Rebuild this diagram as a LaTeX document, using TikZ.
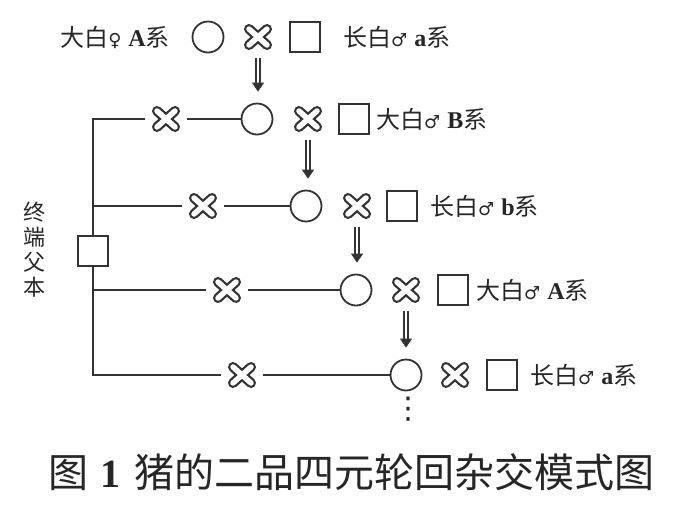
\documentclass[tikz,border=0pt]{standalone}
\usepackage{fontspec}
\setmainfont{Liberation Serif}
\newfontfamily\cjk{Noto Sans CJK SC}
\newfontfamily\symb{DejaVu Sans}
\usepackage{tikz}
\usetikzlibrary{arrows.meta}

% strain label: breed, sex sign, line letter
\newcommand{\strain}[3]{{\cjk #1}{\symb\fontsize{18}{18}\selectfont #2}\hspace{7pt}{\bfseries #3}{\cjk 系}}

\begin{document}
\begin{tikzpicture}[x=1pt, y=-1pt,
	color=black!80,
	lab/.style={inner sep=0pt, text=black!85, font=\fontsize{24}{24}\selectfont},
	female/.style={circle, draw, line width=1.8pt, minimum size=31pt, inner sep=0pt},
	male/.style={rectangle, draw, line width=2pt, minimum size=30pt, inner sep=0pt},
	mating/.style={minimum size=42pt, inner sep=0pt,
		path picture={
			\draw[line width=10pt, line cap=round]
				([shift={(-9pt,-8pt)}]path picture bounding box.center) -- ([shift={(9pt,8pt)}]path picture bounding box.center)
				([shift={(-9pt,8pt)}]path picture bounding box.center) -- ([shift={(9pt,-8pt)}]path picture bounding box.center);
			\draw[line width=5.5pt, line cap=round, white]
				([shift={(-9pt,-8pt)}]path picture bounding box.center) -- ([shift={(9pt,8pt)}]path picture bounding box.center)
				([shift={(-9pt,8pt)}]path picture bounding box.center) -- ([shift={(9pt,-8pt)}]path picture bounding box.center);
		}},
	link/.style={line width=2pt},
	breed/.style={double, line width=1.5pt, double distance=2.2pt,
		-{Triangle[length=9pt, width=12pt]}, shorten >=11pt}]

	\useasboundingbox (0,0) rectangle (687,531);

	% first cross
	\node[lab, anchor=east] (damA) at (170,37) {\strain{大白}{♀}{A}};
	\node[female] (c0) at (208,37) {};
	\node[mating] (x0) at (258,37) {};
	\node[male] (s0) at (305,37) {};
	\node[lab, anchor=west] (sire0) at (343,37) {\strain{长白}{♂}{a}};

	% rotation rows
	\node[mating] (xl1) at (166,119) {};
	\node[female] (c1) at (257,119) {};
	\node[mating] (x1) at (308,119) {};
	\node[male] (s1) at (354,119) {};
	\node[lab, anchor=west] (sire1) at (376,119) {\strain{大白}{♂}{B}};

	\node[mating] (xl2) at (203,206) {};
	\node[female] (c2) at (306,206) {};
	\node[mating] (x2) at (357,206) {};
	\node[male] (s2) at (402,206) {};
	\node[lab, anchor=west] (sire2) at (430,206) {\strain{长白}{♂}{b}};

	\node[mating] (xl3) at (227,290) {};
	\node[female] (c3) at (356,290) {};
	\node[mating] (x3) at (406,290) {};
	\node[male] (s3) at (453,290) {};
	\node[lab, anchor=west] (sire3) at (476,290) {\strain{大白}{♂}{A}};

	\node[mating] (xl4) at (242,375) {};
	\node[female] (c4) at (406,375) {};
	\node[mating] (x4) at (455,375) {};
	\node[male] (s4) at (502,375) {};
	\node[lab, anchor=west] (sire4) at (530,375) {\strain{长白}{♂}{a}};
	\node[lab, font=\symb\fontsize{30}{30}\selectfont] (more) at (408,409) {⋮};

	% terminal sire
	\node[male] (term) at (93,251) {};
	\node[lab, align=center, font=\cjk\fontsize{22}{25}\selectfont] (termlab) at (34,250) {终\\端\\父\\本};

	\draw[link] (term.north) |- (xl1);
	\draw[link] (term.north) |- (xl2);
	\draw[link] (term.south) |- (xl3);
	\draw[link] (term.south) |- (xl4);
	\draw[link] (xl1) -- (c1);
	\draw[link] (xl2) -- (c2);
	\draw[link] (xl3) -- (c3);
	\draw[link] (xl4) -- (c4);

	\draw[breed] (x0) -- (x0 |- c1.north);
	\draw[breed] (x1) -- (x1 |- c2.north);
	\draw[breed] (x2) -- (x2 |- c3.north);
	\draw[breed] (x3) -- (x3 |- c4.north);

	\node[lab, font=\fontsize{40}{40}\selectfont] (title) at (351,472) {{\cjk 图}\hspace{12pt}{\bfseries 1}\hspace{14pt}{\cjk 猪的二品四元轮回杂交模式图}};
\end{tikzpicture}
\end{document}
